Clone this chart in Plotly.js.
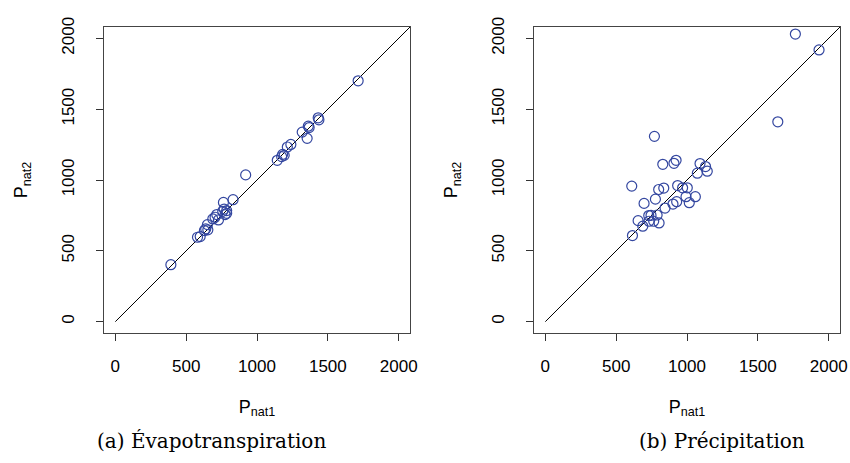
<!DOCTYPE html>
<html>
<head>
<meta charset="utf-8">
<script src="https://cdn.plot.ly/plotly-3.0.1.min.js"></script>
<style>html,body{margin:0;padding:0;background:#fff;}#chart{width:850px;height:463px;}</style>
</head>
<body>
<div id="chart"></div>
<script>
// Évapotranspiration: P_nat1 vs P_nat2
const evapX = [392, 1714, 920, 1432, 1437, 1362, 1368, 1319, 1354, 1239, 1214, 1181, 1192, 1174, 1143,
  831, 763, 768, 786, 758, 775, 716, 704, 728, 688, 650, 638, 629, 653, 599, 580, 786];
const evapY = [402, 1700, 1036, 1439, 1425, 1380, 1370, 1338, 1294, 1251, 1233, 1181, 1174, 1165, 1139,
  861, 842, 795, 765, 779, 756, 756, 737, 718, 725, 685, 655, 643, 648, 601, 596, 784];
// Précipitation: P_nat1 vs P_nat2
const precX = [1765, 1932, 1641, 770, 829, 908, 923, 1092, 1131, 1143, 1073, 610, 934, 969, 1002, 800, 836,
  777, 993, 1059, 697, 927, 901, 1016, 845, 730, 746, 789, 655, 732, 765, 803, 688, 615];
const precY = [2030, 1918, 1411, 1308, 1111, 1118, 1139, 1116, 1095, 1062, 1048, 957, 961, 945, 945, 933, 943,
  865, 882, 882, 835, 847, 830, 840, 802, 749, 751, 753, 713, 709, 709, 697, 674, 608];
// 1:1 reference line
const lineX = [0, 2200];
const lineY = [0, 2200];
const tickVals = [0, 500, 1000, 1500, 2000];
const tickText = ['0', '500', '1000', '1500', '2000'];
const captions = ['(a) Évapotranspiration', '(b) Précipitation'];

const markerStyle = {symbol: 'circle-open', size: 10, color: '#3447a0', line: {width: 1.2, color: '#3447a0'}};
const lineStyle = {color: '#000', width: 1};

const traces = [
  {x: lineX, y: lineY, mode: 'lines', line: lineStyle, xaxis: 'x', yaxis: 'y', hoverinfo: 'skip'},
  {x: evapX, y: evapY, mode: 'markers', marker: markerStyle, xaxis: 'x', yaxis: 'y'},
  {x: lineX, y: lineY, mode: 'lines', line: lineStyle, xaxis: 'x2', yaxis: 'y2', hoverinfo: 'skip'},
  {x: precX, y: precY, mode: 'markers', marker: markerStyle, xaxis: 'x2', yaxis: 'y2'}
];

const fontSans = {family: 'Liberation Sans, Arial, sans-serif', size: 17, color: '#000'};
const titleFont = {family: 'Liberation Sans, Arial, sans-serif', size: 18, color: '#000'};

function xAxis(domain, anchor) {
  return {
    domain: domain, anchor: anchor, range: [-80, 2080],
    tickmode: 'array', tickvals: tickVals, ticktext: tickText,
    ticks: 'outside', ticklen: 7, tickcolor: '#333', tickwidth: 1,
    ticklabelstandoff: 11,
    showline: true, mirror: true, linecolor: '#444', linewidth: 1,
    showgrid: false, zeroline: false, tickfont: fontSans,
    title: {text: 'P<sub>nat1</sub>', font: titleFont, standoff: 24}
  };
}
function yAxis(domain, anchor) {
  return {
    domain: domain, anchor: anchor, range: [-80, 2080],
    tickmode: 'array', tickvals: tickVals, ticktext: tickText,
    ticks: 'outside', ticklen: 7, tickcolor: '#333', tickwidth: 1,
    tickangle: -90, ticklabelstandoff: 15,
    showline: true, mirror: true, linecolor: '#444', linewidth: 1,
    showgrid: false, zeroline: false, tickfont: fontSans,
    title: {text: 'P<sub>nat2</sub>', font: titleFont, standoff: 26}
  };
}

const yDom = [130 / 463, 436 / 463];
const layout = {
  width: 850, height: 463,
  margin: {l: 0, r: 0, t: 0, b: 0},
  paper_bgcolor: '#fff', plot_bgcolor: '#fff',
  showlegend: false,
  xaxis: xAxis([104 / 850, 410 / 850], 'y'),
  yaxis: yAxis(yDom, 'x'),
  xaxis2: xAxis([534 / 850, 840 / 850], 'y2'),
  yaxis2: yAxis(yDom, 'x2'),
  annotations: [
    {text: captions[0], xref: 'paper', yref: 'paper', x: 211 / 850, y: (463 - 441) / 463, xanchor: 'center', yanchor: 'middle', showarrow: false,
     font: {family: 'DejaVu Serif, Liberation Serif, serif', size: 20, color: '#000'}},
    {text: captions[1], xref: 'paper', yref: 'paper', x: 722 / 850, y: (463 - 441) / 463, xanchor: 'center', yanchor: 'middle', showarrow: false,
     font: {family: 'DejaVu Serif, Liberation Serif, serif', size: 20, color: '#000'}}
  ]
};

Plotly.newPlot('chart', traces, layout, {displayModeBar: false, staticPlot: true});
</script>
</body>
</html>
